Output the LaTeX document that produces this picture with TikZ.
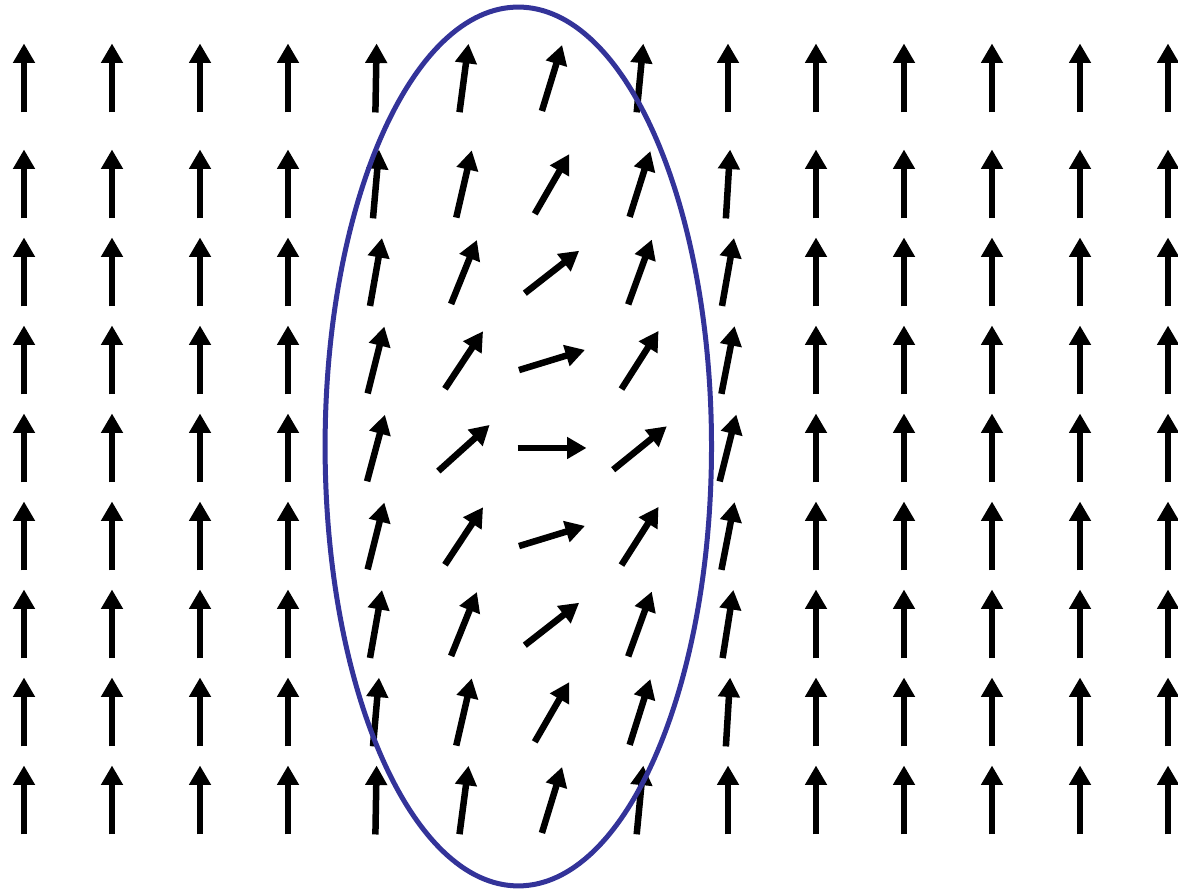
\documentclass[tikz,border=0pt]{standalone}
\usepackage{tikz}
\usetikzlibrary{arrows.meta, shapes.geometric}

\definecolor{wallblue}{RGB}{51,51,153}

\begin{document}
\begin{tikzpicture}[x=0.02cm, y=0.02cm,
    spin/.style={-{Triangle[length=0.39cm, width=0.42cm]}, line width=0.13cm, black},
    wall/.style={draw=wallblue, line width=0.1cm}]

\useasboundingbox (0,0) rectangle (1178,892);

% Spin field: one row per line, angle of each column (tilt from vertical)
\foreach \y/\angles in {
    814/{0,0,0,0,1,7.5,17,5.5,0,0,0,0,0,0},
    708/{0,0,0,0,5,13,30,17.5,3.5,0,0,0,0,0},
    620/{0,0,0,0,10,22,52,20,10,0,0,0,0,0},
    532/{0,0,0,0,14,33.5,73,32.5,11,0,0,0,0,0},
    444/{0,0,0,0,15,48,90,51,14,0,0,0,0,0},
    356/{0,0,0,0,14,33.5,73,32.5,11,0,0,0,0,0},
    268/{0,0,0,0,10,22,52,20,9,0,0,0,0,0},
    180/{0,0,0,0,5,13,30,17.5,3.5,0,0,0,0,0},
    92/{0,0,0,0,1,7.5,17,5.5,0,0,0,0,0,0}} {
  \foreach \a [count=\i] in \angles {
    \pgfmathsetmacro{\x}{24+88*(\i-1)}
    \coordinate (c) at (\x,\y);
    \draw[spin] ([shift={(90-\a:-34.5)}] c) -- ([shift={(90-\a:34.5)}] c);
  }
}

% Domain wall
\node[wall, ellipse, minimum width=7.73cm, minimum height=17.58cm, inner sep=0pt] (domain) at (518.3,445.5) {};

\end{tikzpicture}
\end{document}
